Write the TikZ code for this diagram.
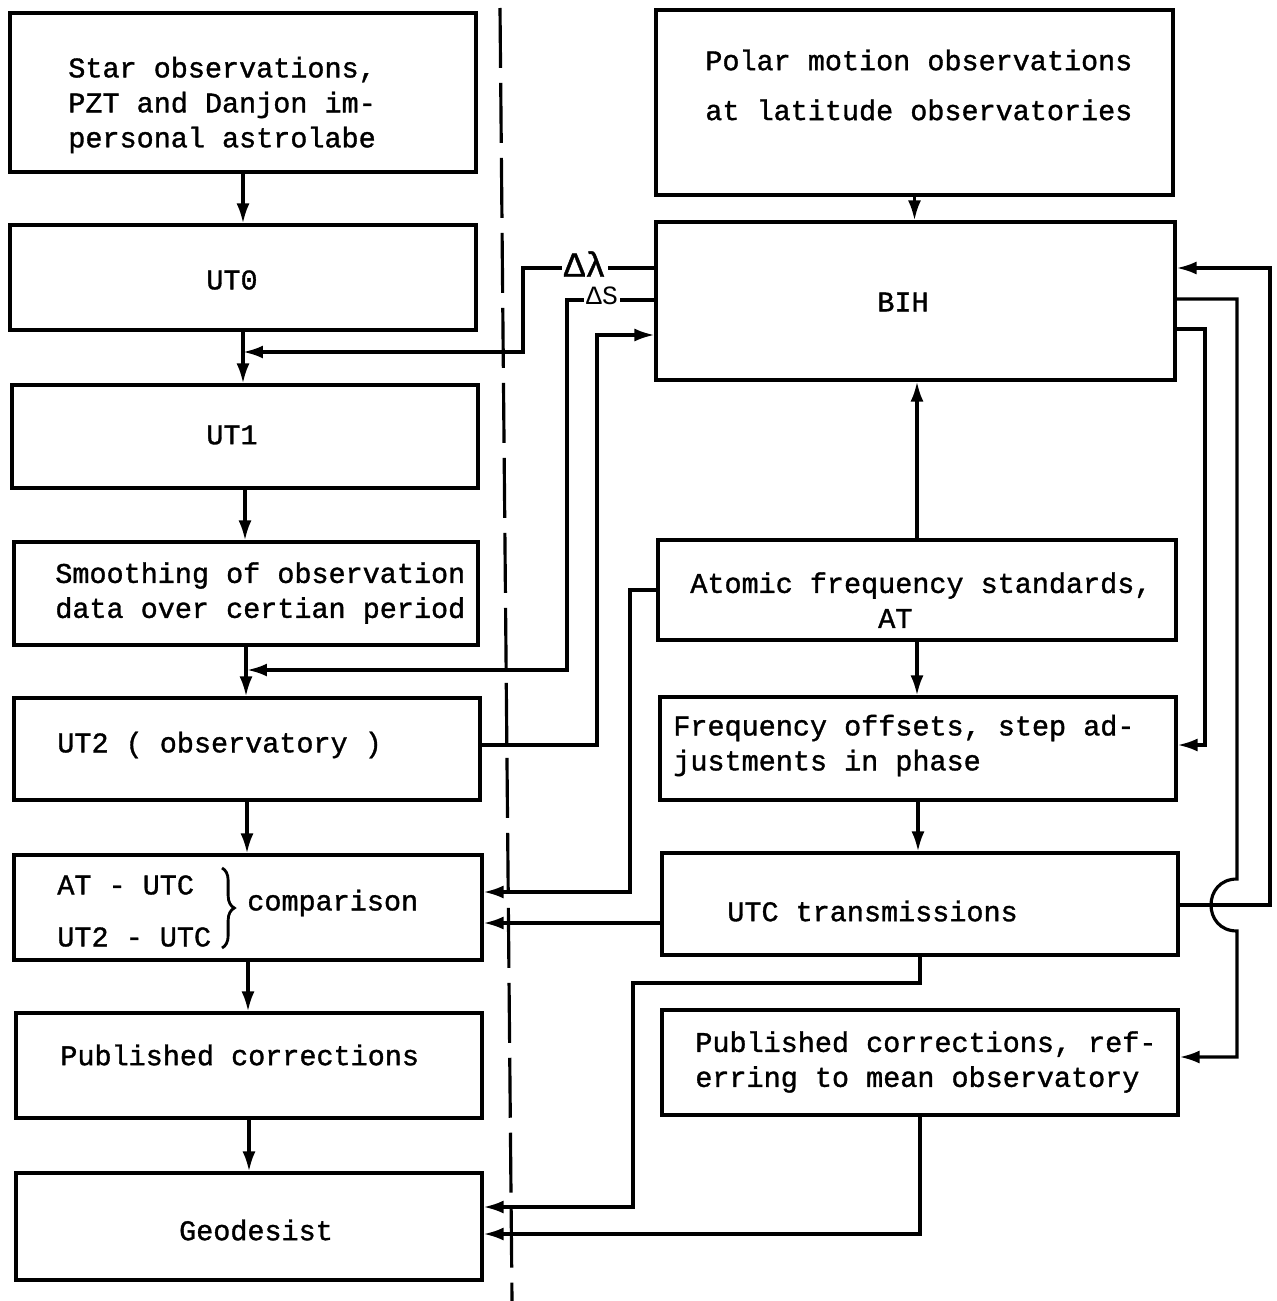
\documentclass[tikz,border=0pt]{standalone}
\usepackage{fontspec}
\setmainfont{Liberation Mono}[BoldFont={Liberation Mono},BoldFeatures={FakeBold=1.2}]
\usetikzlibrary{arrows.meta,decorations.pathreplacing}
\begin{document}
\begin{tikzpicture}[x=0.02cm,y=-0.02cm,
  box/.style={draw, line width=1.8pt, rectangle, inner sep=0pt},
  txt/.style={font=\fontsize{16.2pt}{19.9pt}\selectfont\bfseries, align=left, inner sep=0pt},
  arr/.style={line width=1.8pt, -{Latex[length=4mm,width=2.6mm]}},
  lbl/.style={fill=white, inner sep=1pt}
]
\fill[white] (0,0) rectangle (1276,1301);
\useasboundingbox (0,0) rectangle (1276,1301);

% left column boxes
\node[box, minimum width=9.32cm, minimum height=3.18cm] (star) at (243,92.5) {};
\node[box, minimum width=9.32cm, minimum height=2.10cm] (ut0) at (243,277.5) {};
\node[box, minimum width=9.32cm, minimum height=2.06cm] (ut1) at (245,436.5) {};
\node[box, minimum width=9.28cm, minimum height=2.06cm] (smooth) at (246,593.5) {};
\node[box, minimum width=9.32cm, minimum height=2.04cm] (ut2) at (247,749) {};
\node[box, minimum width=9.36cm, minimum height=2.10cm] (comp) at (248,907.5) {};
\node[box, minimum width=9.32cm, minimum height=2.10cm] (pub) at (249,1065.5) {};
\node[box, minimum width=9.32cm, minimum height=2.14cm] (geo) at (249,1226.5) {};

% right column boxes
\node[box, minimum width=10.34cm, minimum height=3.70cm] (polar) at (914.5,102.5) {};
\node[box, minimum width=10.38cm, minimum height=3.16cm] (bih) at (915.5,301) {};
\node[box, minimum width=10.36cm, minimum height=2.00cm] (atomic) at (917,590) {};
\node[box, minimum width=10.32cm, minimum height=2.06cm] (freq) at (918,748.5) {};
\node[box, minimum width=10.32cm, minimum height=2.04cm] (utc) at (920,904) {};
\node[box, minimum width=10.32cm, minimum height=2.10cm] (pubm) at (920,1062.5) {};

% texts
\node[txt, anchor=west] (t-star) at (68,105) {Star observations,\\PZT and Danjon im-\\personal astrolabe};
\node[txt] (t-ut0) at (232,280) {UT0};
\node[txt] (t-ut1) at (232,435) {UT1};
\node[txt, anchor=west] (t-smooth) at (55,593) {Smoothing of observation\\data over certian period};
\node[txt, anchor=west] (t-ut2) at (57,745) {UT2 ( observatory )};
\node[txt, anchor=west] (t-c1) at (57,885) {AT - UTC};
\node[txt, anchor=west] (t-c2) at (57,937) {UT2 - UTC};
\node[txt, anchor=west] (t-c3) at (247,903) {comparison};
\node[txt, anchor=west] (t-pub) at (60,1055) {Published corrections};
\node[txt] (t-geo) at (256,1230) {Geodesist};
\node[txt, anchor=west] (t-polar) at (705,85) {Polar motion observations\\[8.5pt]at latitude observatories};
\node[txt] (t-bih) at (903,302) {BIH};
\node[txt, anchor=west] (t-atomic) at (690,603) {Atomic frequency standards,\\\phantom{Atomic freq}AT};
\node[txt, anchor=west] (t-freq) at (673,745.5) {Frequency offsets, step ad-\\justments in phase};
\node[txt, anchor=west] (t-utc) at (727,911) {UTC transmissions};
\node[txt, anchor=west] (t-pubm) at (695,1062) {Published corrections, ref-\\erring to mean observatory};

% brace of the comparison
\draw[line width=1.6pt, decorate, decoration={brace, amplitude=7pt}] (222,868) -- (222,948);

% dashed separator
\draw[line width=1.8pt, dash pattern=on 1.2cm off 0.3cm] (500,8) -- (512,1301);

% helper coordinates
\coordinate (j1) at (243,352);
\coordinate (j2) at (247,670);
\coordinate (y268) at (0,268);
\coordinate (y300) at (0,300);
\coordinate (y299) at (0,299);
\coordinate (y329) at (0,329);
\coordinate (y335) at (0,335);
\coordinate (y590) at (0,590);
\coordinate (y745) at (0,745);
\coordinate (y892) at (0,892);
\coordinate (y905) at (0,905);
\coordinate (y923) at (0,923);
\coordinate (y1057) at (0,1057);
\coordinate (y1207) at (0,1207);
\coordinate (y1234) at (0,1234);

% left column flow
\draw[arr] (star.south) -- (ut0.north);
\draw[arr] (ut0.south) -- (ut0.south |- ut1.north);
\draw[arr] (ut1.south) -- (ut1.south |- smooth.north);
\draw[arr] (smooth.south) -- (smooth.south |- ut2.north);
\draw[arr] (ut2.south) -- (ut2.south |- comp.north);
\draw[arr] (comp.south) -- (comp.south |- pub.north);
\draw[arr] (pub.south) -- (pub.south |- geo.north);

% right column flow
\draw[arr] (polar.south) -- (polar.south |- bih.north);
\draw[arr] (atomic.north) -- (atomic.north |- bih.south);
\draw[arr] (atomic.south) -- (atomic.south |- freq.north);
\draw[arr] (freq.south) -- (freq.south |- utc.north);

% BIH -> left (delta lambda, delta S)
\draw[arr] (bih.west |- y268) -- (523,268) -- (523,352) -- (j1);
\node[lbl, font=\fontsize{20pt}{22pt}\selectfont\bfseries] (dl) at (585,264) {Δλ};
\draw[arr] (bih.west |- y300) -- (567,300) -- (567,670) -- (j2);
\node[lbl, font=\fontsize{15pt}{17pt}\selectfont] (ds) at (602,296) {ΔS};

% UT2 -> BIH
\draw[arr] (ut2.east |- y745) -- (597,745) -- (597,335) -- (bih.west |- y335);
% AT -> comparison
\draw[arr] (atomic.west |- y590) -- (630,590) -- (630,892) -- (comp.east |- y892);
% UTC -> comparison
\draw[arr] (utc.west |- y923) -- (comp.east |- y923);

% right side loops
\draw[arr] (utc.east |- y905) -- (1270,905) -- (1270,268) -- (bih.east |- y268);
\draw[arr] (bih.east |- y299) -- (1237,299) -- (1237,879)
  .. controls (1202.3,879) and (1202.3,931) .. (1237,931)
  -- (1237,1057) -- (pubm.east |- y1057);
\draw[arr] (bih.east |- y329) -- (1205,329) -- (1205,745) -- (freq.east |- y745);

% to geodesist
\draw[arr] (utc.south) -- (920,983) -- (633,983) -- (633,1207) -- (geo.east |- y1207);
\draw[arr] (pubm.south) -- (920,1234) -- (geo.east |- y1234);
\end{tikzpicture}
\end{document}
